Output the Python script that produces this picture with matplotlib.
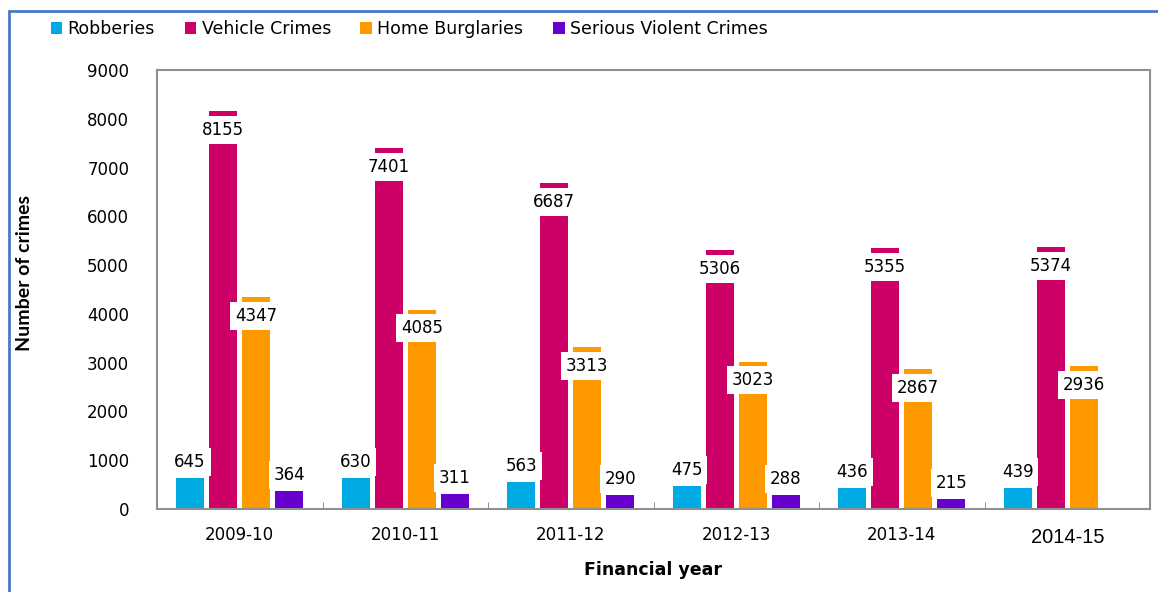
import matplotlib.pyplot as plt
from matplotlib.patches import Rectangle
import numpy as np

years = ['2009-10', '2010-11', '2011-12', '2012-13', '2013-14', '2014-15']
robberies = [645, 630, 563, 475, 436, 439]
vehicle = [8155, 7401, 6687, 5306, 5355, 5374]
burglaries = [4347, 4085, 3313, 3023, 2867, 2936]
violent = [364, 311, 290, 288, 215, None]

series = [
    ('Robberies', robberies, '#00AAE4'),
    ('Vehicle Crimes', vehicle, '#CC0066'),
    ('Home Burglaries', burglaries, '#FF9900'),
    ('Serious Violent Crimes', violent, '#6600CC'),
]

plt.rcParams['font.family'] = 'DejaVu Sans'

fig = plt.figure(figsize=(11.58, 5.92), dpi=100)
ax = fig.add_axes([157 / 1158, 1 - 509 / 592, 993 / 1158, 439 / 592])

x = np.arange(len(years))
step = 0.2
width = 0.17

for i, (name, vals, color) in enumerate(series):
    xs = [xx + (i - 1.5) * step for xx, v in zip(x, vals) if v is not None]
    vs = [v for v in vals if v is not None]
    ax.bar(xs, vs, width=width, color=color, label=name, zorder=2)
    for xx, v in zip(xs, vs):
        if v > 2000:
            off = -13.5
        else:
            off = 11.5
        ax.annotate(str(v), (xx, v), xytext=(0, off), textcoords='offset points',
                    ha='center', va='center', fontsize=12, zorder=3,
                    bbox=dict(boxstyle='square,pad=0.3', fc='white', ec='none'))

ax.set_xlim(-0.5, len(years) - 0.5)
ax.set_ylim(0, 9000)
ax.set_yticks(range(0, 9001, 1000))
ax.tick_params(axis='y', length=0, labelsize=12, pad=20)
ax.set_xticks(x)
ax.set_xticklabels(years, fontsize=12)
ax.tick_params(axis='x', length=0, pad=12)
lbl = ax.get_xticklabels()[-1]
lbl.set_fontsize(14.5)
lbl.set_fontfamily('Liberation Sans')
lbl.set_y(-0.006)
ax.set_xticks(np.arange(0.5, len(years) - 0.5), minor=True)
ax.tick_params(axis='x', which='minor', direction='in', length=5, color='#808080')

for s in ax.spines.values():
    s.set_color('#909090')
    s.set_linewidth(1.5)

fig.text(25 / 1158, 1 - 273 / 592, 'Number of crimes', rotation=90, ha='center',
         va='center', fontsize=14, fontweight='bold', family='Lato')
fig.text(653 / 1158, 1 - 570 / 592, 'Financial year', ha='center', va='center',
         fontsize=12.5, fontweight='bold')

fig.legend(loc='center left', bbox_to_anchor=(35 / 1158, 1 - 29 / 592), ncol=4,
           frameon=False, fontsize=12.5, handlelength=0.68, handleheight=0.68,
           handletextpad=0.3, columnspacing=1.7)

# outer frame
fig.patches.append(Rectangle((9 / 1158, -0.1), 1.2, 1 - 11 / 592 + 0.1,
                             transform=fig.transFigure, fill=False,
                             ec='#4A78C8', lw=2))

fig.savefig('out.png', dpi=100)
